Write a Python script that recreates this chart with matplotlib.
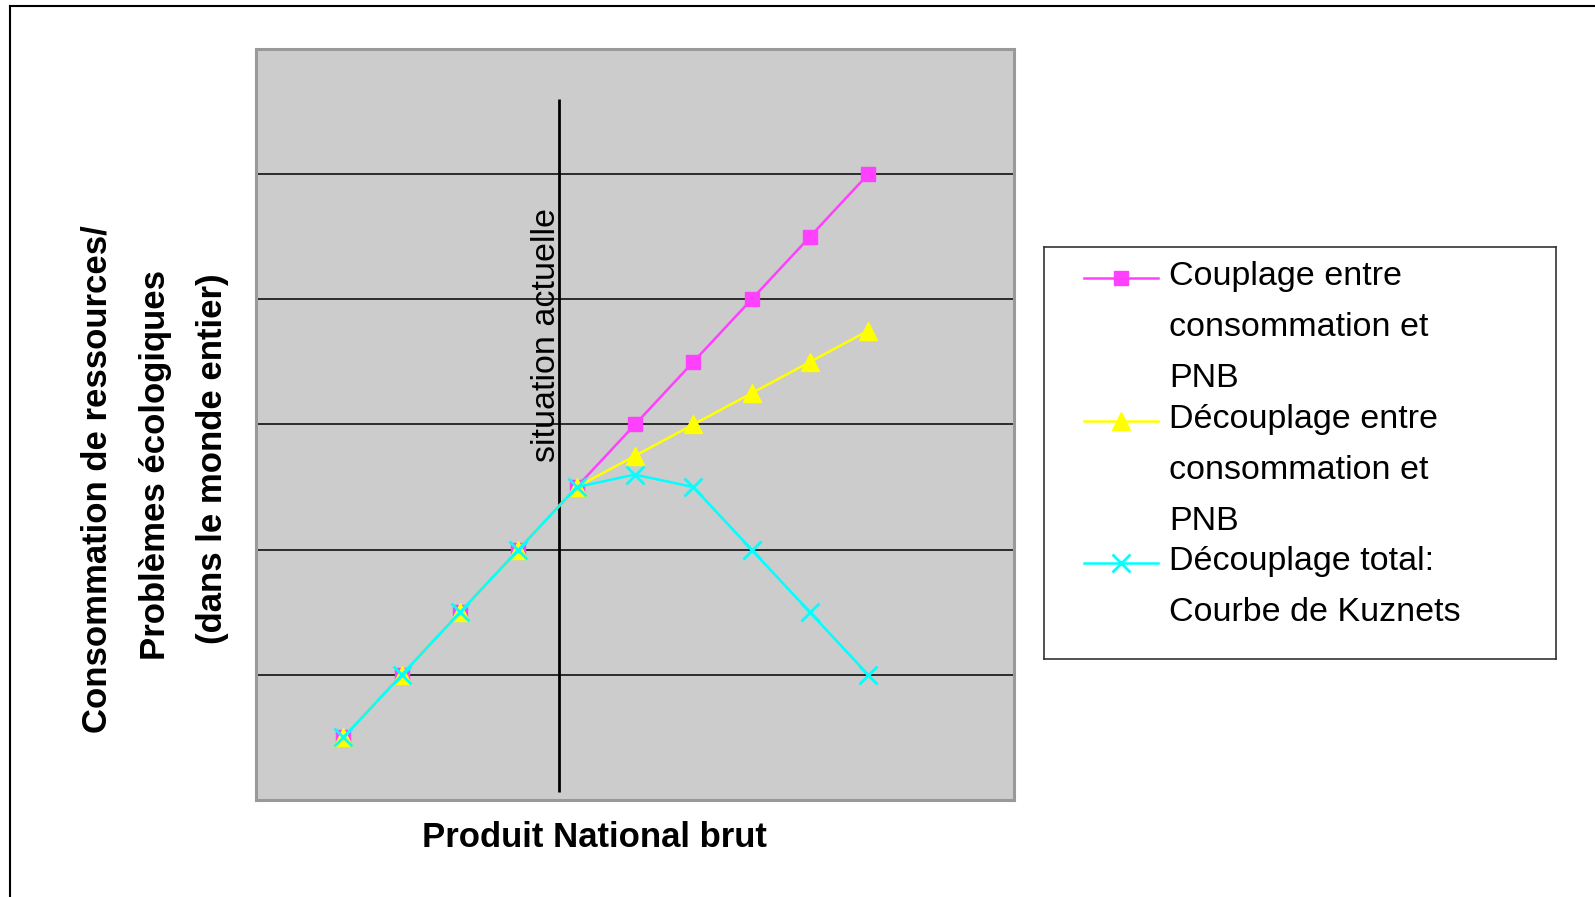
import matplotlib
matplotlib.use("Agg")
import matplotlib.pyplot as plt
import matplotlib.lines as lines

plt.rcParams['font.family'] = ['Liberation Sans', 'DejaVu Sans']

# --- data (no tick labels, arbitrary units) ---
pnb = [2, 3, 4, 5, 6, 7, 8, 9, 10, 11]  # category positions on the GNP axis
couplage = [0.5, 1.0, 1.5, 2.0, 2.5, 3.0, 3.5, 4.0, 4.5, 5.0]
decouplage = [0.5, 1.0, 1.5, 2.0, 2.5, 2.75, 3.0, 3.25, 3.5, 3.75]
kuznets = [0.5, 1.0, 1.5, 2.0, 2.5, 2.6, 2.5, 2.0, 1.5, 1.0]
gridlines = [1, 2, 3, 4, 5]
situation_x = 5.7
situation_span = [0.06, 5.6]

series_labels = [
    ["Couplage entre", "consommation et", "PNB"],
    ["Découplage entre", "consommation et", "PNB"],
    ["Découplage total:", "Courbe de Kuznets"],
]
ylabel_lines = ["Consommation de ressources/", "Problèmes écologiques",
                "(dans le monde entier)"]

styles = [
    dict(color='#ff40ff', marker='s', markersize=9.5),
    dict(color='#ffff00', marker='^', markersize=13),
    dict(color='#00ffff', marker='x', markersize=13, markeredgewidth=2),
]

W, H = 1595, 897


def fx(px):
    return px / W


def fy(py):
    return 1 - py / H


fig = plt.figure(figsize=(W / 100, H / 100), dpi=100)

# outer chart frame (only top and left edges visible)
fig.add_artist(lines.Line2D([fx(9.5), 1], [fy(6), fy(6)], color='black', lw=1.5,
                            transform=fig.transFigure))
fig.add_artist(lines.Line2D([fx(9.5), fx(9.5)], [fy(6), 0], color='black', lw=1.5,
                            transform=fig.transFigure))

# --- main plot area ---
ax = fig.add_axes([fx(256), fy(800), fx(1014) - fx(256), fy(49) - fy(800)])
ax.set_facecolor('#cccccc')
for s in ax.spines.values():
    s.set_color('#999999')
    s.set_linewidth(2.2)
ax.set_xlim(0.5, 13.5)
ax.set_ylim(0, 6)
ax.set_xticks([])
ax.set_yticks(gridlines)
ax.tick_params(left=False, labelleft=False)
ax.yaxis.grid(True, color='black', lw=1.1)
ax.set_axisbelow(True)

ax.vlines(situation_x, situation_span[0], situation_span[1], color='black', lw=2)

for vals, st in zip([couplage, decouplage, kuznets], styles):
    ax.plot(pnb, vals, lw=1.8, **st)

fig.text(fx(555), fy(335), "situation actuelle", rotation=90, rotation_mode='anchor',
         ha='center', va='baseline', fontsize=24.5)

# axis titles
fig.text(fx(594), fy(847), "Produit National brut", ha='center', va='baseline',
         fontsize=25, fontweight='bold')
for xb, yc, txt in zip([107, 165, 222], [479, 465, 459], ylabel_lines):
    fig.text(fx(xb), fy(yc), txt, rotation=90, rotation_mode='anchor',
             ha='center', va='baseline', fontsize=25, fontweight='bold')

# --- legend box, drawn in pixel coordinates ---
lx0, lx1, ly0, ly1 = 1044, 1556, 247, 659
lg = fig.add_axes([fx(lx0), fy(ly1), fx(lx1) - fx(lx0), fy(ly0) - fy(ly1)])
lg.set_xlim(lx0, lx1)
lg.set_ylim(ly1, ly0)
lg.set_xticks([])
lg.set_yticks([])
for s in lg.spines.values():
    s.set_color('#333333')
    s.set_linewidth(1.2)

first_baselines = [285, 428, 570]
for lab, st, b in zip(series_labels, styles, first_baselines):
    hy = b - 7
    lg.plot([1084, 1121, 1158], [hy, hy, hy], lw=1.8, markevery=[1], **st)
    for k, line in enumerate(lab):
        lg.text(1169, b + k * 51, line, va='baseline', ha='left', fontsize=24.5)

fig.savefig("out.png", dpi=100)
